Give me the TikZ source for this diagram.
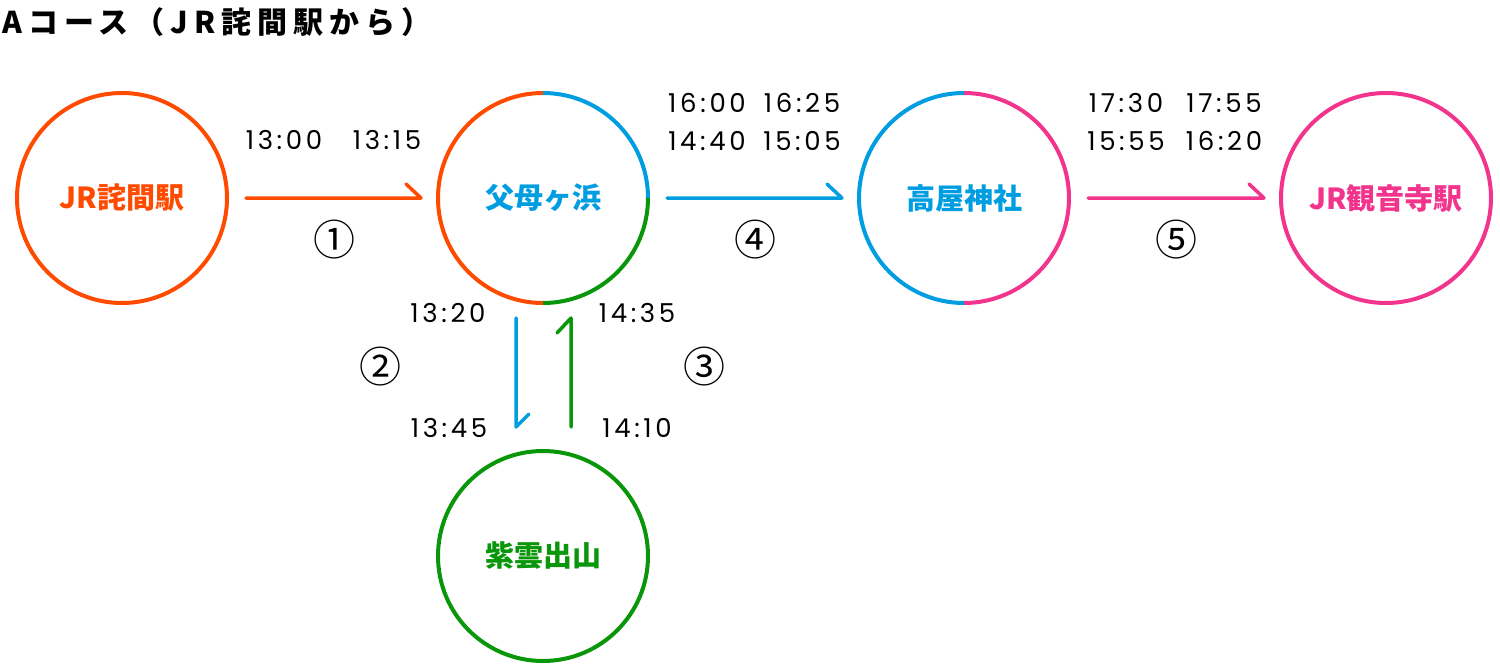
\documentclass[tikz,border=0pt]{standalone}
\usepackage{fontspec}
\newfontfamily\jpfont{Noto Sans CJK JP}
\newfontfamily\titlefont{Noto Sans CJK JP}[LetterSpace=20]
\newfontfamily\timefont{Poppins}[LetterSpace=14]

\definecolor{zamaorange}{RGB}{255,75,0}
\definecolor{beachblue}{RGB}{0,158,224}
\definecolor{shiungreen}{RGB}{10,150,10}
\definecolor{kanonpink}{RGB}{242,52,140}

\def\ringsize{210pt}
\def\ringradius{105pt}

\begin{document}
\begin{tikzpicture}[x=1pt,y=-1pt,
    station/.style={circle,minimum size=\ringsize,inner sep=0pt,outer sep=0pt,
      line width=4pt,font=\jpfont\bfseries\fontsize{29}{33}\selectfont},
    ring/.style={line width=4pt},
    timelabel/.style={inner sep=0pt,font=\timefont\fontsize{26}{30}\selectfont},
    legno/.style={inner sep=0pt,font=\jpfont\fontsize{42}{46}\selectfont},
    route/.style={line width=3.5pt,line cap=round,line join=round}]
    \useasboundingbox (0,0) rectangle (1500,672);

    \node[anchor=base west,inner sep=0pt,
      font=\titlefont\bfseries\fontsize{30}{34}\selectfont] (title) at (2,33)
      {Aコース（JR詫間駅から）};

    \node[station,draw=zamaorange,text=zamaorange] (takuma) at (122,198) {JR詫間駅};
    \node[station,text=beachblue] (chichibu) at (543,198) {父母ヶ浜};
    \node[station,text=beachblue] (takaya) at (964,198) {高屋神社};
    \node[station,draw=kanonpink,text=kanonpink] (kanonji) at (1386,198) {JR観音寺駅};
    \node[station,draw=shiungreen,text=shiungreen] (shiude) at (543,556) {紫雲出山};

    % the two rings that change colour
    \draw[ring,zamaorange] (chichibu.north) arc[start angle=90,end angle=270,radius=\ringradius];
    \draw[ring,beachblue] (chichibu.east) arc[start angle=0,end angle=90,radius=\ringradius];
    \draw[ring,shiungreen] (chichibu.south) arc[start angle=270,end angle=360,radius=\ringradius];
    \draw[ring,beachblue] (takaya.north) arc[start angle=90,end angle=270,radius=\ringradius];
    \draw[ring,kanonpink] (takaya.south) arc[start angle=-90,end angle=90,radius=\ringradius];

    % routes, each with a one-sided barb at its tip
    \draw[route,zamaorange] ([xshift=19pt]takuma.east) -- ([xshift=-17pt]chichibu.west)
      -- ++(-15pt,14pt);
    \draw[route,beachblue] ([xshift=19pt]chichibu.east) -- ([xshift=-17pt]takaya.west)
      -- ++(-15pt,14pt);
    \draw[route,kanonpink] ([xshift=19pt]takaya.east) -- ([xshift=-17pt]kanonji.west)
      -- ++(-15pt,14pt);
    \draw[route,beachblue] ([xshift=-27pt,yshift=-15pt]chichibu.south)
      -- ([xshift=-27pt,yshift=24pt]shiude.north) -- ++(13pt,13pt);
    \draw[route,shiungreen] ([xshift=28pt,yshift=24pt]shiude.north)
      -- ([xshift=28pt,yshift=-15pt]chichibu.south) -- ++(-14pt,-15pt);

    % timetable
    \node[timelabel] (t1a) at (284,140) {13:00};
    \node[timelabel] (t1b) at (387,140) {13:15};
    \node[timelabel] (t2a) at (448,313) {13:20};
    \node[timelabel] (t2b) at (449,428) {13:45};
    \node[timelabel] (t3a) at (637,428) {14:10};
    \node[timelabel] (t3b) at (637,313) {14:35};
    \node[timelabel] (t4a) at (707,103) {16:00};
    \node[timelabel] (t4b) at (802,103) {16:25};
    \node[timelabel] (t4c) at (707,141) {14:40};
    \node[timelabel] (t4d) at (802,141) {15:05};
    \node[timelabel] (t5a) at (1126,103) {17:30};
    \node[timelabel] (t5b) at (1224,103) {17:55};
    \node[timelabel] (t5c) at (1126,141) {15:55};
    \node[timelabel] (t5d) at (1224,141) {16:20};

    \node[legno] (n1) at (334,240) {①};
    \node[legno] (n2) at (380,367) {②};
    \node[legno] (n3) at (704,367) {③};
    \node[legno] (n4) at (755,240) {④};
    \node[legno] (n5) at (1176,240) {⑤};
\end{tikzpicture}
\end{document}
